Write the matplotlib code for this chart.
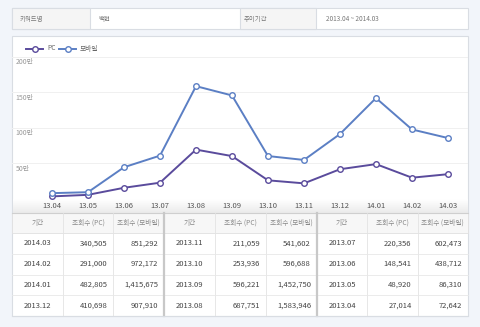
import numpy as np
import matplotlib.pyplot as plt
from matplotlib.patches import Rectangle
from matplotlib.colors import LinearSegmentedColormap

plt.rcParams['font.family'] = ['Noto Sans CJK KR', 'DejaVu Sans']

months = ["13.04", "13.05", "13.06", "13.07", "13.08", "13.09",
          "13.10", "13.11", "13.12", "14.01", "14.02", "14.03"]
periods = ["2013.04", "2013.05", "2013.06", "2013.07", "2013.08", "2013.09",
           "2013.10", "2013.11", "2013.12", "2014.01", "2014.02", "2014.03"]
pc_views = [27014, 48920, 148541, 220356, 687751, 596221,
            253936, 211059, 410698, 482805, 291000, 340505]
mobile_views = [72642, 86310, 438712, 602473, 1583946, 1452750,
                596688, 541602, 907910, 1415675, 972172, 851292]
y_ticks = [50, 100, 150, 200]  # 만 units
keyword = "백현"
period_range = "2013.04 ~ 2014.03"
col_headers = ["기간", "조회수 (PC)", "조회수 (모바일)"]

PC_COLOR = "#5a4b9c"
MOB_COLOR = "#5b7fc4"
PAGE_BG = "#f2f5fa"
BORDER = "#d9dde3"

W, H = 480, 327
fig = plt.figure(figsize=(W / 100, H / 100), dpi=100)
fig.patch.set_facecolor(PAGE_BG)

# page-level axes in pixel coords
bg = fig.add_axes([0, 0, 1, 1])
bg.axis("off")


def box(x0, y0, x1, y1, fc="white", ec=BORDER, lw=0.8, z=1):
    bg.add_patch(Rectangle((x0, y0), x1 - x0, y1 - y0, facecolor=fc,
                           edgecolor=ec, linewidth=lw, zorder=z))


# top info row
box(12, 8, 468, 29)
box(12, 8, 90, 29, fc="#f5f5f5")
box(240, 8, 316, 29, fc="#f5f5f5")
for x, s in [(20, "키워드명"), (98, keyword), (244, "추이기간"), (326, period_range)]:
    bg.text(x, 18.8, s, fontsize=4.6, color="#777777", va="center", ha="left", zorder=3)

# chart box
box(12, 36, 468, 316)
# label band gradient under the plot
grad = np.linspace(0, 1, 50).reshape(-1, 1)
bg.imshow(grad, extent=(12.5, 467.5, 213, 199),
          cmap=LinearSegmentedColormap.from_list("g", ["#ffffff", "#ebebeb"]),
          aspect="auto", zorder=1.5)
bg.set_xlim(0, W)
bg.set_ylim(H, 0)
bg.plot([12, 468], [213, 213], color="#cfcfcf", lw=0.8, zorder=2)

# legend
for x0, col, lab in [(26, PC_COLOR, "PC"), (59, MOB_COLOR, "모바일")]:
    bg.plot([x0, x0 + 17], [48.5, 48.5], color=col, lw=1.4, zorder=3)
    bg.plot([x0 + 8.5], [48.5], marker="o", ms=4, mfc="white", mec=col, mew=1, zorder=4)
    bg.text(x0 + 21, 48.5, lab, fontsize=4.8, color="#666666", va="center", zorder=3)

# table
tbl_top, hdr_bot, tbl_bot = 213, 233, 316
row_h = (tbl_bot - hdr_bot) / 4
groups = [(12, 164), (164, 317), (317, 468)]
box(12, tbl_top, 468, hdr_bot, fc="#f7f7f7", ec="#e0e0e0", lw=0.6)
for gi, (gx0, gx1) in enumerate(groups):
    cw = (gx1 - gx0) / 3
    for ci in range(3):
        cx0 = gx0 + ci * cw
        bg.text(cx0 + cw / 2, (tbl_top + hdr_bot) / 2, col_headers[ci], fontsize=4.8,
                color="#888888", ha="center", va="center", zorder=3)
        if ci > 0:
            bg.plot([cx0, cx0], [tbl_top, tbl_bot], color="#e3e3e3", lw=0.6, zorder=2)
    for ri in range(4):
        idx = 11 - (gi * 4 + ri)
        yc = hdr_bot + row_h * (ri + 0.5)
        bg.text(gx0 + cw / 2, yc, periods[idx], fontsize=5.5, color="#444444",
                ha="center", va="center", zorder=3)
        bg.text(gx0 + 2 * cw - 6, yc, f"{pc_views[idx]:,}", fontsize=5.5, color="#444444",
                ha="right", va="center", zorder=3)
        bg.text(gx1 - 6, yc, f"{mobile_views[idx]:,}", fontsize=5.5, color="#444444",
                ha="right", va="center", zorder=3)
for ri in range(1, 4):
    y = hdr_bot + row_h * ri
    bg.plot([12, 468], [y, y], color="#e8e8e8", lw=0.6, zorder=2)
for gx in [164, 317]:
    bg.plot([gx, gx], [tbl_top, tbl_bot], color="#c8c8c8", lw=1.6, zorder=2)
bg.plot([12, 468], [tbl_bot, tbl_bot], color=BORDER, lw=0.8, zorder=2)

# plot axes: pixel y 40..198.3, 0..200만 spans 198.3..56.7
px_per = (198.3 - 56.7) / 200
top_val = (198.3 - 40) / px_per
ax = fig.add_axes([12 / W, 1 - 198.3 / H, 456 / W, (198.3 - 40) / H])
ax.patch.set_alpha(0)
x = np.arange(len(months))
x_left = (12 - 52) / 36.0
x_right = (468 - 52) / 36.0
ax.set_xlim(x_left, x_right)
ax.set_ylim(0, top_val)
for v in [0] + y_ticks:
    ax.axhline(v, color="#f0f0f0", lw=0.7, zorder=0)
    if v:
        ax.text(x_left + 0.1, v - 8, f"{v}만", fontsize=5, color="#999999",
                ha="left", va="center")
pc = np.array(pc_views) / 10000
mob = np.array(mobile_views) / 10000
ax.plot(x, pc, color=PC_COLOR, lw=1.4, marker="o", ms=4, mfc="white",
        mec=PC_COLOR, mew=1, clip_on=False, zorder=3)
ax.plot(x, mob, color=MOB_COLOR, lw=1.4, marker="o", ms=4, mfc="white",
        mec=MOB_COLOR, mew=1, clip_on=False, zorder=3)
ax.set_xticks(x)
ax.set_xticklabels(months, fontsize=5.5, color="#555555")
ax.tick_params(axis="x", length=0, pad=3)
ax.set_yticks([])
for s in ax.spines.values():
    s.set_visible(False)

fig.savefig("out.png", dpi=100, facecolor=fig.get_facecolor())
